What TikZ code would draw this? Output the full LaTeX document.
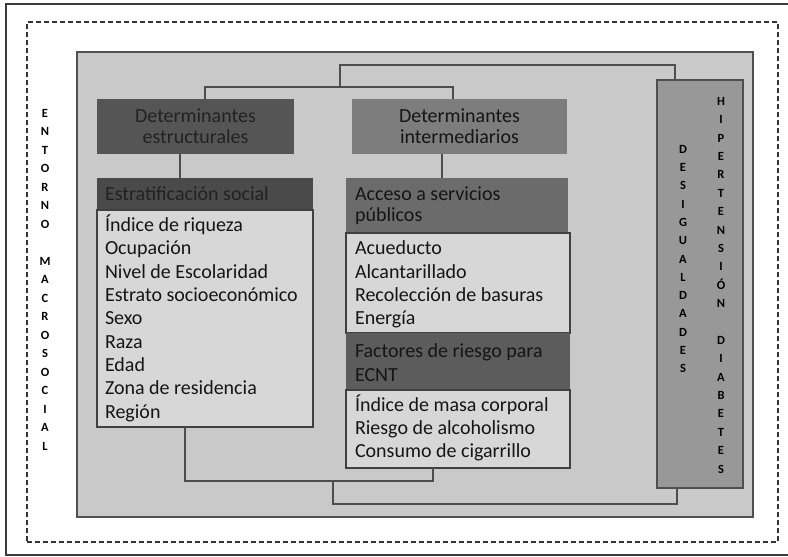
\documentclass[tikz,border=0pt]{standalone}
\usepackage{fontspec}
\setmainfont{Carlito}
\newfontfamily\vfont{Carlito Bold}
\definecolor{framec}{HTML}{3C3C3C}
\definecolor{dashc}{HTML}{333333}
\definecolor{panelc}{HTML}{C9C9C9}
\definecolor{paneld}{HTML}{505050}
\definecolor{destrc}{HTML}{555555}
\definecolor{esthc}{HTML}{4A4A4A}
\definecolor{dintc}{HTML}{7D7D7D}
\definecolor{accc}{HTML}{6B6B6B}
\definecolor{facc}{HTML}{5C5C5C}
\definecolor{listc}{HTML}{D7D7D7}
\definecolor{listd}{HTML}{404040}
\definecolor{desc}{HTML}{989898}
\definecolor{connc}{HTML}{4D4D4D}
\definecolor{dtext}{HTML}{222222}
\definecolor{btext}{HTML}{151515}
\begin{document}
\begin{tikzpicture}[x=1pt,y=-1pt,
  boxnode/.style={inner sep=0pt, outer sep=0pt, anchor=north west},
  hdrbox/.style={boxnode},
  listbox/.style={boxnode, fill=listc, draw=listd, line width=1.4pt},
  txt/.style={inner sep=0pt, outer sep=0pt, text=btext},
  vletters/.style={inner sep=0pt, outer sep=0pt, anchor=base, text=black},
  conn/.style={draw=connc, line width=2pt, line join=miter}
]
\useasboundingbox (0,0) rectangle (788,557);

% outer frame (right side cut off)
\draw[framec, line width=1.5pt] (788,4) -- (6,4) -- (6,555) -- (788,555);
% dashed frame
\node[boxnode, draw=dashc, line width=1.3pt, dash pattern=on 5pt off 3pt,
      minimum width=751pt, minimum height=520pt] (env) at (27,22) {};
% panel
\node[boxnode, fill=panelc, draw=paneld, line width=1.5pt,
      minimum width=676pt, minimum height=465pt] (panel) at (77,52) {};

% left vertical text
\node[vletters, font=\vfont\fontsize{12.5}{18.5}\selectfont] (entorno) at (45,117.2)
  {\begin{tabular}[t]{@{}c@{}}E\\N\\T\\O\\R\\N\\O\\ \\M\\A\\C\\R\\O\\S\\O\\C\\I\\A\\L\end{tabular}};

% header boxes
\node[hdrbox, fill=destrc, minimum width=197pt, minimum height=55pt] (destr) at (97,99) {};
\node[hdrbox, fill=dintc, minimum width=215pt, minimum height=55pt] (dint) at (352,99) {};
\node[hdrbox, fill=esthc, minimum width=216pt, minimum height=32pt] (esth) at (97,178) {};
\node[hdrbox, fill=accc, minimum width=222pt, minimum height=55pt] (acc) at (346,178) {};
\node[listbox, minimum width=216pt, minimum height=217pt] (estl) at (97,210) {};
\node[listbox, minimum width=224pt, minimum height=100pt] (accl) at (346,233) {};
\node[hdrbox, fill=facc, minimum width=224pt, minimum height=57pt] (fac) at (346,333) {};
\node[listbox, minimum width=224pt, minimum height=78pt] (facl) at (346,390) {};
\node[boxnode, fill=desc, draw=paneld, line width=1.4pt,
      minimum width=86pt, minimum height=408pt] (desig) at (657,80) {};

% header texts
\node[txt, anchor=base, text=dtext, font=\fontsize{20}{21}\selectfont] (destrT) at (195.5,122)
  {\begin{tabular}[t]{@{}c@{}}Determinantes\\estructurales\end{tabular}};
\node[txt, anchor=base, font=\fontsize{20}{21}\selectfont] (dintT) at (459.5,122)
  {\begin{tabular}[t]{@{}c@{}}Determinantes\\intermediarios\end{tabular}};
\node[txt, anchor=base west, text=dtext, font=\fontsize{20}{21}\selectfont] (esthT) at (105,200)
  {Estratificación social};
\node[txt, anchor=base west, font=\fontsize{20}{21.5}\selectfont] (accT) at (355,200)
  {\begin{tabular}[t]{@{}l@{}}Acceso a servicios\\públicos\end{tabular}};
\node[txt, anchor=base west, font=\fontsize{20}{24.4}\selectfont] (facT) at (355,357.3)
  {\begin{tabular}[t]{@{}l@{}}Factores de riesgo para\\ECNT\end{tabular}};

% list texts
\node[txt, anchor=base west, font=\fontsize{20}{23.3}\selectfont] (estlT) at (105,231.6)
  {\begin{tabular}[t]{@{}l@{}}Índice de riqueza\\Ocupación\\Nivel de Escolaridad\\Estrato socioeconómico\\Sexo\\Raza\\Edad\\Zona de residencia\\Región\end{tabular}};
\node[txt, anchor=base west, font=\fontsize{20}{23.3}\selectfont] (acclT) at (355,254.9)
  {\begin{tabular}[t]{@{}l@{}}Acueducto\\Alcantarillado\\Recolección de basuras\\Energía\end{tabular}};
\node[txt, anchor=base west, font=\fontsize{20}{22.8}\selectfont] (faclT) at (355,411.7)
  {\begin{tabular}[t]{@{}l@{}}Índice de masa corporal\\Riesgo de alcoholismo\\Consumo de cigarrillo\end{tabular}};

% right vertical texts
\node[vletters, font=\vfont\fontsize{12.5}{18.3}\selectfont] (desigT) at (683,153.2)
  {\begin{tabular}[t]{@{}c@{}}D\\E\\S\\I\\G\\U\\A\\L\\D\\A\\D\\E\\S\end{tabular}};
\node[vletters, font=\vfont\fontsize{12.5}{18.4}\selectfont] (hipT) at (721,105.2)
  {\begin{tabular}[t]{@{}c@{}}H\\I\\P\\E\\R\\T\\E\\N\\S\\I\\Ó\\N\\ \\D\\I\\A\\B\\E\\T\\E\\S\end{tabular}};

% connectors
\coordinate (j1) at (340,87);
\coordinate (j2) at (340,65);
\coordinate (j3) at (333,481);
\coordinate (j4) at (333,504);
\draw[conn] ([xshift=9.5pt]destr.north) |- (j1) -| ([xshift=-6.5pt]dint.north);
\draw[conn] (j1) -- (j2) -| ([xshift=-25pt]desig.north);
\draw[conn] ([xshift=-15.5pt]destr.south) -- ([xshift=-15.5pt]destr.south |- esth.north);
\draw[conn] ([xshift=-17.5pt]dint.south) -- ([xshift=-17.5pt]dint.south |- acc.north);
\draw[conn] ([xshift=-20pt]estl.south) |- (j3) -| ([xshift=-25pt]facl.south);
\draw[conn] (j3) -- (j4) -| ([xshift=-23pt]desig.south);
\end{tikzpicture}
\end{document}
